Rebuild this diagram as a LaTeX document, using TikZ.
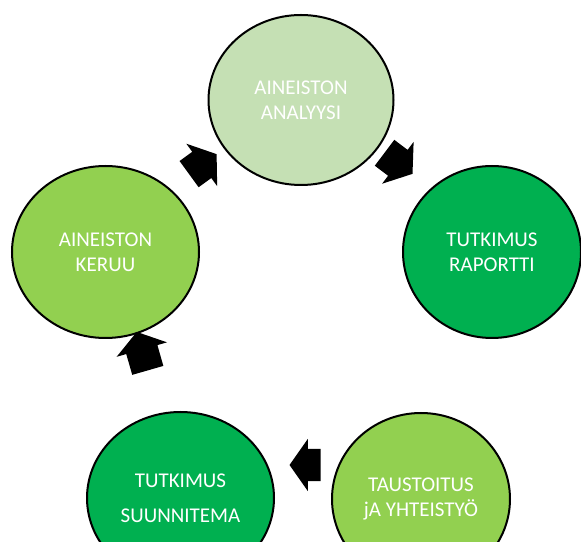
\documentclass[tikz,border=0pt]{standalone}
\usepackage{fontspec}
\setmainfont{Carlito}
\usetikzlibrary{shapes.geometric,shapes.arrows}
\definecolor{palegreen}{HTML}{C5E0B4}
\definecolor{midgreen}{HTML}{92D050}
\definecolor{deepgreen}{HTML}{00B050}
\begin{document}
\begin{tikzpicture}[x=1pt,y=1pt,
    phase/.style={ellipse,draw=black,line width=2pt,inner sep=0pt,
      text=white,align=center,font=\fontsize{21}{25}\selectfont},
    blockarrow/.style={single arrow,fill=black,inner xsep=0pt,inner ysep=16pt,
      single arrow head extend=10pt,single arrow tip angle=110,anchor=tip}]
  \useasboundingbox (0,0) rectangle (581,541);
  \node[phase,fill=palegreen,minimum width=185pt,minimum height=170pt] (analyysi) at (301,441) {AINEISTON\\ANALYYSI};
  \node[phase,fill=deepgreen,minimum width=178pt,minimum height=172pt] (raportti) at (492,289) {TUTKIMUS\\RAPORTTI};
  \node[phase,fill=midgreen,minimum width=187pt,minimum height=172pt] (keruu) at (105.5,289) {AINEISTON\\KERUU};
  \node[phase,fill=deepgreen,minimum width=187pt,minimum height=172pt] (suunnitema) at (180.5,43) {TUTKIMUS\\[10pt]SUUNNITEMA};
  \node[phase,fill=midgreen,minimum width=178pt,minimum height=172pt] (taustoitus) at (421,42) {TAUSTOITUS\\jA YHTEISTYÖ};

  \node[blockarrow,minimum height=34pt,rotate=36] (kerAna) at (216.8,387) {};
  \node[blockarrow,minimum height=35pt,rotate=-37] (anaRap) at (412.7,367) {};
  \node[blockarrow,minimum height=40pt,rotate=106] (suuKer) at (136.7,209.3) {};
  \node[blockarrow,minimum height=31pt,rotate=180] (tauSuu) at (289.3,76) {};
\end{tikzpicture}
\end{document}
